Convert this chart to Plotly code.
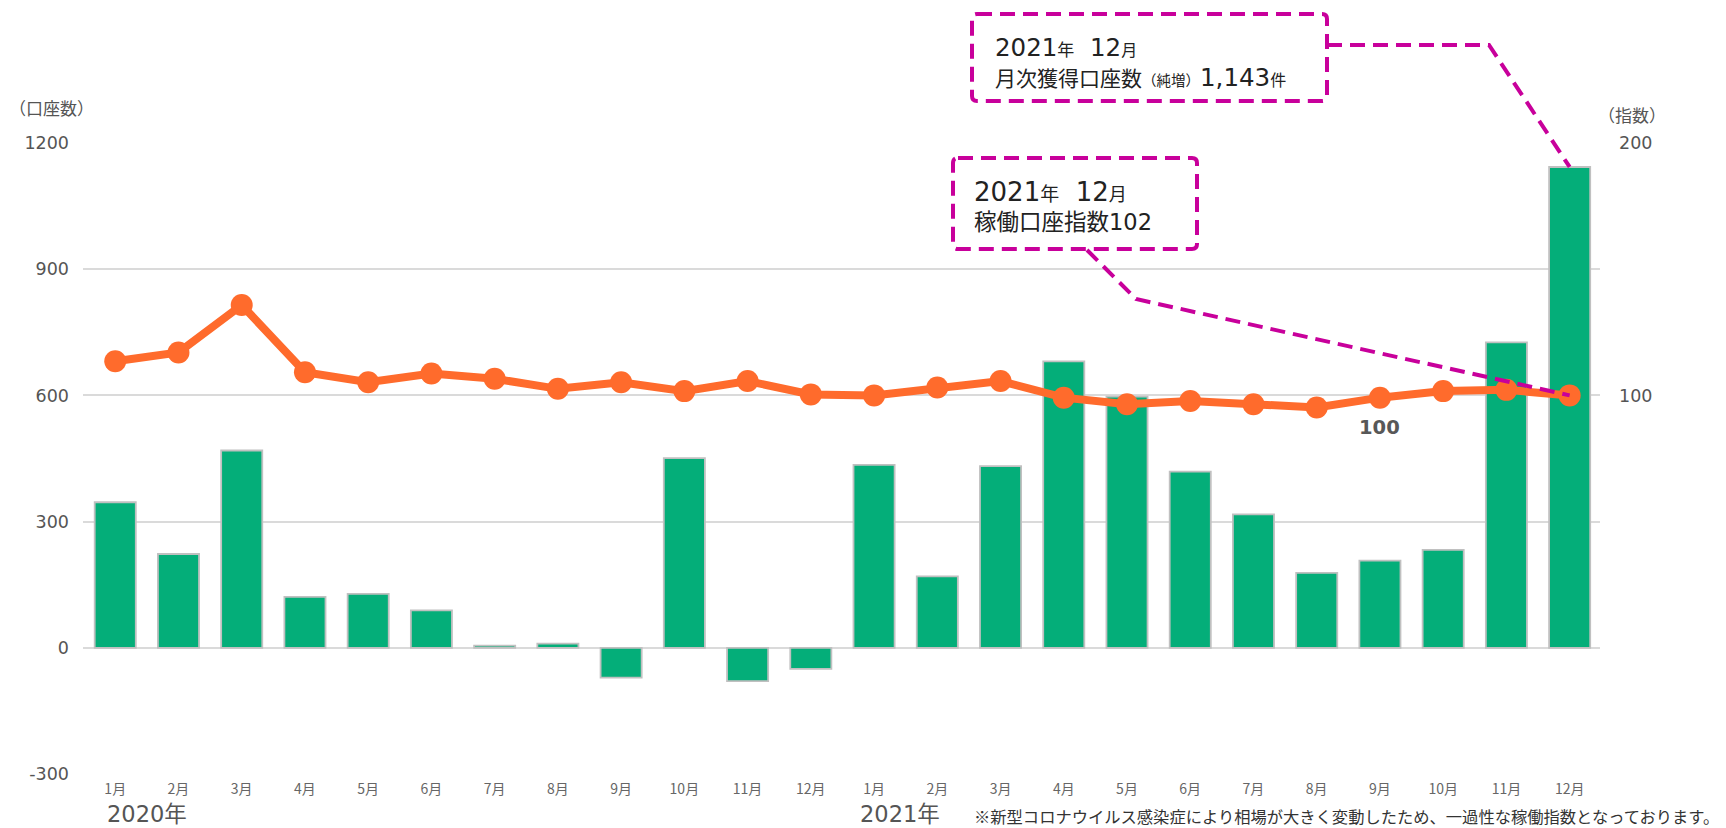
import plotly.graph_objects as go

# ---------------- data ----------------
months = ["1月", "2月", "3月", "4月", "5月", "6月", "7月", "8月", "9月", "10月", "11月", "12月"] * 2
accounts = [346, 223, 469, 121, 128, 89, 5, 10, -71, 451, -79, -50,
            435, 170, 432, 681, 597, 419, 317, 178, 207, 233, 726, 1143]
index_vals = [113.5, 117.0, 135.8, 109.2, 105.2, 108.7, 106.6, 102.6, 105.2, 101.7, 105.7, 100.4,
              100.0, 103.1, 105.7, 99.1, 96.5, 97.8, 96.5, 95.2, 99.1, 101.7, 102.2, 100.0]
left_ticks = [-300, 0, 300, 600, 900, 1200]
left_tick_text = ["-300", "0", "300", "600", "900", "1200"]
right_ticks = [100, 200]
year_labels = ["2020年", "2021年"]
footnote = "※新型コロナウイルス感染症により相場が大きく変動したため、一過性な稼働指数となっております。"

# ---------------- layout constants (page pixels) ----------------
PAGE_W, PAGE_H = 1726, 828
OFF = 8  # default body margin of the html page
W, H = PAGE_W - OFF, PAGE_H - OFF
PL, PR, PT, PB = 83, 1600, 143, 774
XMIN, XMAX = -0.51, 23.48
YMIN, YMAX = -300, 1200
Y2MIN, Y2MAX = -50, 200

GREEN = "#04AE79"
ORANGE = "#FF6B2C"
MAGENTA = "#C8009B"
JP = "Noto Sans CJK JP"
MIX = "DejaVu Sans, Noto Sans CJK JP"


def px_x(p):
    return (p - PL) / (PR - PL)


def px_y(p):
    return (PB - p) / (PB - PT)


def dx(i):
    return (i - XMIN) / (XMAX - XMIN)


def dy(v):
    return (v - YMIN) / (YMAX - YMIN)


def dy2(v):
    return (v - Y2MIN) / (Y2MAX - Y2MIN)


def rounded_rect(x0, y0, x1, y1, r=5):
    def P(x, y):
        return f"{px_x(x)},{px_y(y)}"
    return (f"M {P(x0 + r, y0)} L {P(x1 - r, y0)} Q {P(x1, y0)} {P(x1, y0 + r)} "
            f"L {P(x1, y1 - r)} Q {P(x1, y1)} {P(x1 - r, y1)} "
            f"L {P(x0 + r, y1)} Q {P(x0, y1)} {P(x0, y1 - r)} "
            f"L {P(x0, y0 + r)} Q {P(x0, y0)} {P(x0 + r, y0)} Z")


xs = list(range(len(months)))

fig = go.Figure()
fig.add_trace(go.Bar(
    x=xs, y=accounts, width=0.65,
    marker=dict(color=GREEN, line=dict(color="#c0c0c0", width=1.8)),
    hoverinfo="skip", showlegend=False,
))
fig.add_trace(go.Scatter(
    x=xs, y=index_vals, yaxis="y2", mode="lines+markers",
    line=dict(color=ORANGE, width=8),
    marker=dict(color=ORANGE, size=22),
    hoverinfo="skip", showlegend=False,
))

fig.update_layout(
    width=W, height=H,
    margin=dict(l=PL - OFF, r=PAGE_W - PR, t=PT - OFF, b=PAGE_H - PB, pad=0),
    paper_bgcolor="white", plot_bgcolor="white",
    font=dict(family=JP, color="#555555"),
    xaxis=dict(range=[XMIN, XMAX], tickvals=xs, ticktext=months, showgrid=False,
               zeroline=False, showline=False, ticks="",
               tickfont=dict(family=JP, size=14, color="#666666"), ticklabelstandoff=5),
    yaxis=dict(range=[YMIN, YMAX], tickvals=left_ticks, ticktext=left_tick_text, showgrid=True,
               gridcolor="#dadada", gridwidth=1.5, zeroline=False, showline=False,
               ticks="", tickfont=dict(family=MIX, size=17.5, color="#555555"), ticklabelstandoff=13),
    yaxis2=dict(range=[Y2MIN, Y2MAX], tickvals=right_ticks, overlaying="y", side="right",
                showgrid=False, zeroline=False, showline=False, ticks="",
                tickfont=dict(family=MIX, size=17.5, color="#555555"), ticklabelstandoff=18),
    bargap=0.35,
)


def txt(text, x, y, size, color="#555555", xanchor="center", family=MIX, **kw):
    return dict(text=text, x=px_x(x), y=px_y(y), xref="paper", yref="paper",
                xanchor=xanchor, yanchor="middle", showarrow=False,
                font=dict(size=size, color=color, family=family), **kw)


ann = [
    txt("（口座数）", 51, 107, 17, family=JP),
    txt("（指数）", 1632, 115, 17, family=JP),
    txt(year_labels[0], 105, 814, 22.5, xanchor="left"),
    txt(year_labels[1], 858, 814, 22.5, xanchor="left"),
    txt(footnote, 1721, 816, 16.3, color="#333333", xanchor="right", family=JP),
    dict(text="<b>100</b>", x=20, y=index_vals[20], xref="x", yref="y2", yshift=-30,
         showarrow=False, font=dict(size=19.5, color="#585858", family=MIX)),
    # callout 1
    txt('2021<span style="font-size:17px">年</span>  12<span style="font-size:16px">月</span>',
        993, 47, 24.5, color="#222222", xanchor="left"),
    txt('<span style="font-size:21px">月次獲得口座数</span><span style="font-size:14.5px">（純増）</span>'
        '1,143<span style="font-size:16px">件</span>',
        993, 77, 24.5, color="#222222", xanchor="left"),
    # callout 2
    txt('2021<span style="font-size:19px">年</span>  12<span style="font-size:18px">月</span>',
        972, 192, 26, color="#222222", xanchor="left"),
    txt('<span style="font-size:22.5px">稼働口座指数</span>102',
        972, 222, 22.5, color="#222222", xanchor="left"),
]
fig.update_layout(annotations=ann)

dash_line = dict(color=MAGENTA, width=4, dash="15px,8px")
shapes = [
    dict(type="path", xref="paper", yref="paper", path=rounded_rect(972, 14, 1327, 101),
         line=dash_line, layer="above"),
    dict(type="path", xref="paper", yref="paper", path=rounded_rect(953, 158, 1197, 249),
         line=dash_line, layer="above"),
    dict(type="path", xref="paper", yref="paper",
         path=f"M {px_x(1327)},{px_y(45)} L {px_x(1489)},{px_y(45)} L {dx(23)},{dy(accounts[23])}",
         line=dash_line, layer="above"),
    dict(type="path", xref="paper", yref="paper",
         path=f"M {px_x(1087)},{px_y(250)} L {px_x(1136)},{px_y(299)} L {dx(23)},{dy2(index_vals[23])}",
         line=dash_line, layer="above"),
]
fig.update_layout(shapes=shapes)

fig.write_html("out.html")
